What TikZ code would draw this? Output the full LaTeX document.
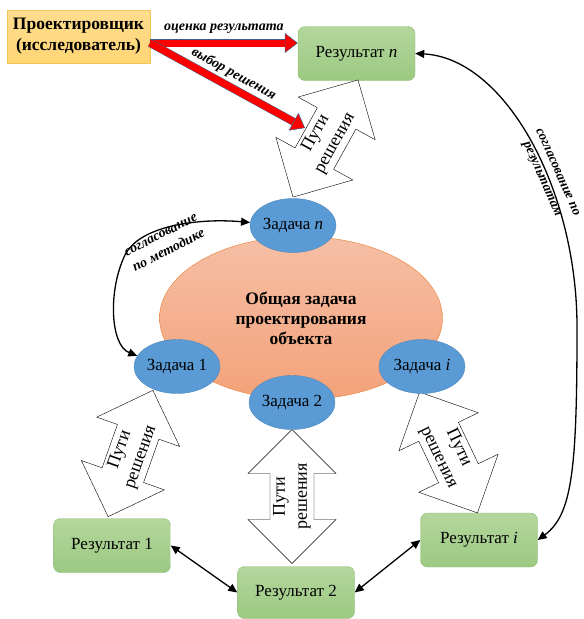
\documentclass[tikz,border=0pt]{standalone}
\usepackage{fontspec}
\setmainfont{Liberation Serif}
\usetikzlibrary{shapes.geometric,shapes.arrows,arrows.meta}
\definecolor{desfill}{HTML}{FFD574}
\definecolor{desline}{HTML}{F2C45A}
\definecolor{restop}{HTML}{B3D69C}
\definecolor{resbot}{HTML}{9CC982}
\definecolor{resline}{HTML}{8DBE70}
\definecolor{taskfill}{HTML}{5B9BD5}
\definecolor{taskline}{HTML}{4A86BE}
\definecolor{gentop}{HTML}{F5BFA5}
\definecolor{genbot}{HTML}{F4A27A}
\definecolor{genline}{HTML}{ED7D31}
\definecolor{redline}{HTML}{3E5F8A}
\begin{document}
\begin{tikzpicture}[x=1pt,y=-1pt,
    result/.style={draw=resline, rounded corners=7pt, top color=restop, bottom color=resbot,
      minimum width=117pt, minimum height=54pt, font=\fontsize{17}{19}\selectfont},
    task/.style={ellipse, draw=taskline, fill=taskfill, minimum width=86pt, minimum height=54pt,
      inner sep=0pt, font=\fontsize{17}{19}\selectfont},
    ways/.style={double arrow, draw, fill=white, double arrow head extend=22pt,
      minimum height=134pt, inner sep=3pt, align=center, font=\fontsize{18}{22}\selectfont},
    lbl/.style={align=center, inner sep=1pt, font=\bfseries\itshape\fontsize{14}{17.5}\selectfont},
    redarr/.style={draw=red, line width=7pt,
      -{Triangle[length=13pt,width=20pt,fill=red,color=redline,line width=0.5pt]},
      preaction={draw=redline, line width=8pt, -, shorten >=12pt}},
    blackarr/.style={line width=1.3pt, {Triangle[length=9pt,width=8pt]}-{Triangle[length=9pt,width=8pt]}}]
  \useasboundingbox (0,0) rectangle (584,619);

  \node(des) at (78.5,36.5) [draw=desline, top color=desfill!80!white, bottom color=desfill,
    minimum width=143pt, minimum height=53pt, align=center,
    font=\bfseries\fontsize{17.5}{21}\selectfont] {Проектировщик\\(исследователь)};
  \node(rn) at (356.5,53.5) [result] {Результат \textit{n}};
  \node(r1) at (112,545.5) [result] {Результат 1};
  \node(r2) at (296,592.5) [result, minimum height=52pt] {Результат 2};
  \node(ri) at (479,540) [result] {Результат \textit{i}};

  \node(gen) at (301,318) [ellipse, draw=genline, top color=gentop, bottom color=genbot,
    minimum width=283pt, minimum height=163pt, inner sep=0pt, align=center,
    font=\bfseries\fontsize{17.5}{20}\selectfont] {Общая задача\\проектирования\\объекта};

  \node(wn) at (325.5,138.5) [ways, rotate=61] {Пути\\решения};
  \node(w1) at (130.5,453.5) [ways, rotate=70.5] {Пути\\решения};
  \node(w2) at (292,496.5) [ways, rotate=90] {Пути\\решения};
  \node(wi) at (448.5,452.5) [ways, rotate=-64.4] {Пути\\решения};

  \node(zn) at (293,225.5) [task] {Задача \textit{n}};
  \node(z1) at (177,366.5) [task] {Задача 1};
  \node(z2) at (292,402.5) [task] {Задача 2};
  \node(zi) at (422,366.5) [task] {Задача \textit{i}};

  % red arrows from the designer
  \coordinate(src) at (150,43);
  \coordinate(vyb) at (305,128);
  \draw[redarr] (src) -- (src -| rn.west)
    node[midway, above=5pt, lbl] {оценка результата};
  \draw[redarr] (src) -- (vyb)
    node[midway, above=2pt, sloped, lbl] {выбор решения};

  \draw[blackarr] (r1.east) -- (r2.west);
  \draw[blackarr] (r2.east) -- (ri.west);
  \draw[blackarr] (z1.165) .. controls (110,345) and (108,290) .. (125,255)
    .. controls (140,225) and (200,218) .. (zn.176);
  \draw[blackarr] (rn.east) .. controls (505,58) and (578,190) .. (577,330)
    .. controls (577,470) and (572,515) .. (ri.east);

  \node(sm) at (165,243) [lbl, rotate=27] {согласование\\по методике};
  \node(sr) at (549,176) [lbl, rotate=-66, font=\bfseries\itshape\fontsize{13.5}{17}\selectfont]
    {согласование по\\результатам};
\end{tikzpicture}
\end{document}
